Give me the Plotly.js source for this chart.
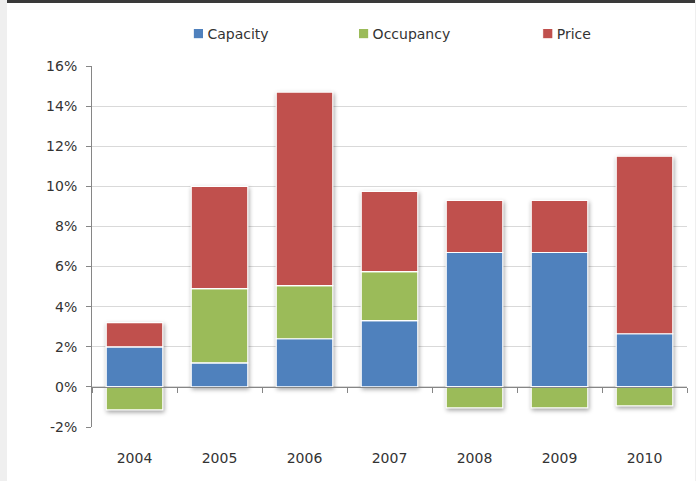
<!DOCTYPE html>
<html>
<head>
<meta charset="utf-8">
<script src="https://cdn.plot.ly/plotly-3.0.1.min.js"></script>
<style>
  html, body { margin: 0; padding: 0; background: #ffffff; }
  #chart { width: 696px; height: 481px; }
  /* frame: grey strip on the left and right, dark rule along the top */
  .edge-left  { position: absolute; left: 0; top: 0; width: 7px; height: 481px; background: #efefef; }
  .edge-right { position: absolute; right: 0; top: 0; width: 1px; height: 481px; background: #efefef; }
  .rule-top   { position: absolute; left: 7px; right: 1px; top: 0; height: 3px; background: #3a3a3a; }
  /* soft shadow under the stacked columns */
  .barlayer { filter: drop-shadow(1px 2px 2px rgba(0,0,0,0.35)); }
  /* smaller legend keys sitting close to their labels */
  .legendpoints path { transform: translate(31px, 0px) scale(0.85); }
</style>
</head>
<body>
<div id="chart"></div>
<div class="edge-left"></div>
<div class="edge-right"></div>
<div class="rule-top"></div>
<script>
// yearly growth contributions, in percent
const years = ['2004', '2005', '2006', '2007', '2008', '2009', '2010'];
const capacity  = [2.0, 1.2, 2.4, 3.3, 6.7, 6.7, 2.65];
const occupancy = [-1.15, 3.7, 2.65, 2.45, -1.05, -1.05, -0.95];
const price     = [1.2, 5.1, 9.65, 4.0, 2.6, 2.6, 8.85];

const yTicks = [-2, 0, 2, 4, 6, 8, 10, 12, 14, 16];
const yTickText = yTicks.map(v => v + '%');

const seriesNames  = ['Capacity', 'Occupancy', 'Price'];
const seriesColors = ['#4f81bd', '#9bbb59', '#c0504d'];
const seriesValues = [capacity, occupancy, price];
const legendIds    = ['legend', 'legend2', 'legend3'];

const font = { family: 'DejaVu Sans, Verdana, sans-serif', size: 14, color: '#333333' };

const traces = seriesValues.map((vals, i) => ({
  type: 'bar',
  name: seriesNames[i],
  x: years,
  y: vals,
  legend: legendIds[i],
  marker: { color: seriesColors[i], line: { color: '#ffffff', width: 1.2 } },
  hoverinfo: 'skip'
}));

const yMin = yTicks[0], yMax = yTicks[yTicks.length - 1];

function legendAt(x) {
  return {
    orientation: 'h', x: x, xanchor: 'left', y: 1.0886, yanchor: 'middle',
    bgcolor: 'rgba(0,0,0,0)', font: font, borderwidth: 0
  };
}

const layout = {
  width: 696, height: 481,
  margin: { l: 91.5, r: 8.5, t: 66, b: 54, pad: 0 },
  paper_bgcolor: '#ffffff', plot_bgcolor: '#ffffff',
  font: font,
  barmode: 'relative',
  bargap: 0.334,
  showlegend: true,
  legend:  legendAt(0.1267),
  legend2: legendAt(0.4044),
  legend3: legendAt(0.7139),
  // category axis drawn along the 0% line, ticks between the years,
  // year labels pushed down below the plot
  xaxis: {
    type: 'category',
    categoryorder: 'array', categoryarray: years,
    range: [-0.5, years.length - 0.5],
    anchor: 'free', position: (0 - yMin) / (yMax - yMin),
    layer: 'above traces',
    showline: true, linecolor: '#868686', linewidth: 1,
    ticks: 'outside', tickson: 'boundaries', ticklen: 5,
    tickcolor: '#868686', tickwidth: 1,
    ticklabelstandoff: 58,
    showgrid: false, zeroline: false,
    tickfont: font, fixedrange: true
  },
  yaxis: {
    range: [yMin, yMax],
    tickmode: 'array', tickvals: yTicks, ticktext: yTickText,
    showgrid: true, gridcolor: '#d9d9d9', gridwidth: 1,
    zeroline: false,
    showline: true, linecolor: '#868686', linewidth: 1,
    ticks: 'outside', ticklen: 5, tickcolor: '#868686',
    ticklabelstandoff: 6,
    tickfont: font, fixedrange: true
  }
};

Plotly.newPlot('chart', traces, layout, { displayModeBar: false, staticPlot: true });
</script>
</body>
</html>
